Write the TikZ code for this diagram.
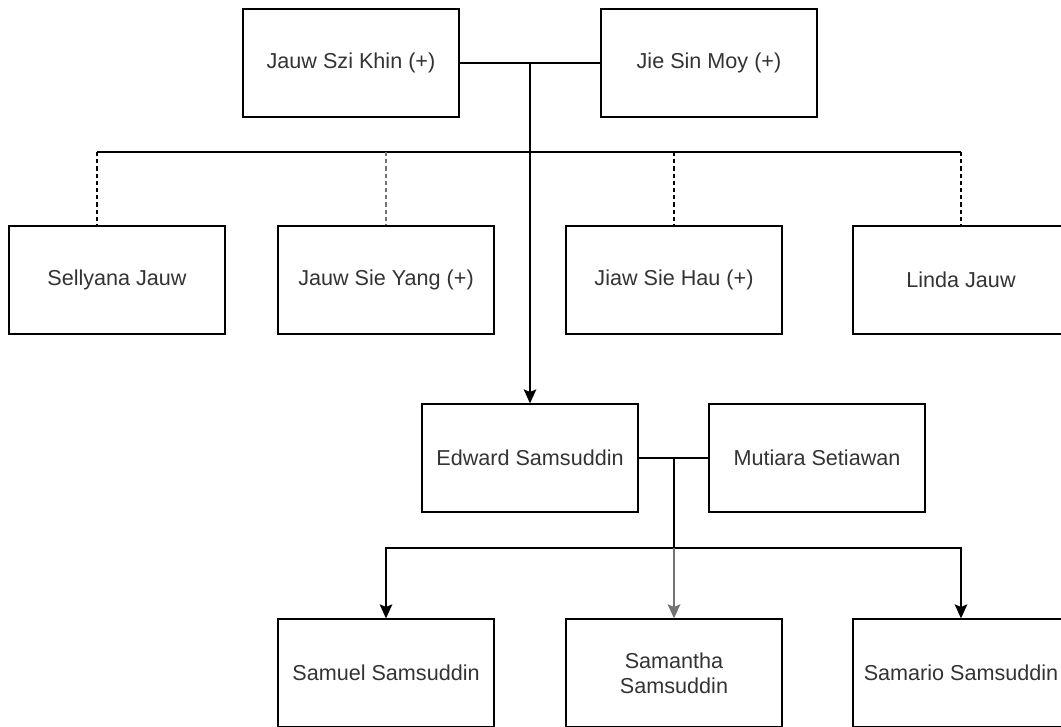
\documentclass[tikz,border=0pt]{standalone}
\usepackage{fontspec}
\setmainfont{Liberation Sans}
\usepackage{tikz}
\usetikzlibrary{arrows.meta}
\usetikzlibrary{positioning}

\begin{document}
\begin{tikzpicture}[
x=0.75pt, y=-0.75pt,
every node/.style={rectangle, draw=black, line width=1pt, minimum width=162pt, minimum height=81pt, inner sep=0, align=center, text=black!80, font=\fontsize{16.2}{18.75}\selectfont},
every path/.style={line width=0.9pt},
kidline/.style={dash pattern=on 3.2pt off 2.2pt},
faded/.style={draw=black!55, line width=1.4pt},
tip/.style={-{Stealth[length=10.5pt,width=9.5pt,inset=2pt]}}
]
\useasboundingbox (0,0) rectangle (1061,727);

\node (jszk) at (351,63) {Jauw Szi Khin (+)};
\node (jsm) at (709,63) {Jie Sin Moy (+)};
\node (sj) at (117,280) {Sellyana Jauw};
\node (jsy) at (386,280) {Jauw Sie Yang (+)};
\node (jsh) at (674,280) {Jiaw Sie Hau (+)};
\node (lj) at (961,280) {Linda Jauw};
\node (es) at (530,458) {Edward Samsuddin};
\node (ms) at (817,458) {Mutiara Setiawan};
\node (ss) at (386,673) {Samuel Samsuddin};
\node (sa) at (674,673) {Samantha\\Samsuddin};
\node (sm) at (961,673) {Samario Samsuddin};

\coordinate (m1) at (530,63);
\coordinate (l1) at (97,152);
\coordinate (r1) at (961,152);
\coordinate (m2) at (674,458);
\coordinate (b2) at (674,548);

\draw (jszk) -- (jsm);
\draw[tip] (m1) -- (es);
\draw (l1) -- (r1);
\draw[kidline] (l1) -- (l1 |- sj.north);
\draw[kidline, faded] (jsy.north |- l1) -- (jsy.north);
\draw[kidline] (jsh.north |- l1) -- (jsh.north);
\draw[kidline] (r1) -- (lj.north);

\draw (es) -- (ms);
\draw (m2) -- (b2);
\draw[tip] (b2) -| (ss.north);
\draw[tip] (b2) -| (sm.north);
\draw[tip, faded] (b2) -- (sa.north);
\end{tikzpicture}
\end{document}
